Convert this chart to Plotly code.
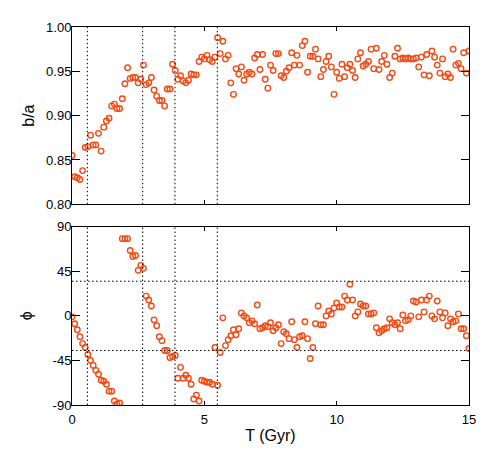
import plotly.graph_objs as go
from plotly.subplots import make_subplots

# time of each snapshot (Gyr)
T = [0.0, 0.1, 0.2, 0.3, 0.4, 0.5, 0.6, 0.7, 0.8, 0.9,
     1.0, 1.1, 1.2, 1.3, 1.4, 1.5, 1.6, 1.7, 1.8, 1.9,
     2.0, 2.1, 2.2, 2.3, 2.4, 2.5, 2.6, 2.7, 2.8, 2.9,
     3.0, 3.1, 3.2, 3.3, 3.4, 3.5, 3.6, 3.7, 3.8, 3.9,
     4.0, 4.1, 4.2, 4.3, 4.4, 4.5, 4.6, 4.7, 4.8, 4.9,
     5.0, 5.1, 5.2, 5.3, 5.4, 5.5, 5.6, 5.7, 5.8, 5.9,
     6.0, 6.1, 6.2, 6.3, 6.4, 6.5, 6.6, 6.7, 6.8, 6.9,
     7.0, 7.1, 7.2, 7.3, 7.4, 7.5, 7.6, 7.7, 7.8, 7.9,
     8.0, 8.1, 8.2, 8.3, 8.4, 8.5, 8.6, 8.7, 8.8, 8.9,
     9.0, 9.1, 9.2, 9.3, 9.4, 9.5, 9.6, 9.7, 9.8, 9.9,
     10.0, 10.1, 10.2, 10.3, 10.4, 10.5, 10.6, 10.7, 10.8, 10.9,
     11.0, 11.1, 11.2, 11.3, 11.4, 11.5, 11.6, 11.7, 11.8, 11.9,
     12.0, 12.1, 12.2, 12.3, 12.4, 12.5, 12.6, 12.7, 12.8, 12.9,
     13.0, 13.1, 13.2, 13.3, 13.4, 13.5, 13.6, 13.7, 13.8, 13.9,
     14.0, 14.1, 14.2, 14.3, 14.4, 14.5, 14.6, 14.7, 14.8, 14.9,
     15.0]

# axis ratio b/a
BA = [0.855, 0.831, 0.830, 0.828, 0.838, 0.864, 0.865, 0.878, 0.867, 0.867,
      0.880, 0.860, 0.887, 0.894, 0.897, 0.911, 0.913, 0.908, 0.908, 0.919,
      0.936, 0.954, 0.942, 0.943, 0.943, 0.937, 0.941, 0.957, 0.935, 0.937,
      0.943, 0.929, 0.922, 0.917, 0.917, 0.911, 0.930, 0.930, 0.958, 0.951,
      0.941, 0.945, 0.939, 0.937, 0.940, 0.947, 0.946, 0.946, 0.961, 0.966,
      0.964, 0.968, 0.963, 0.961, 0.966, 0.988, 0.970, 0.984, 0.964, 0.968,
      0.937, 0.924, 0.953, 0.947, 0.955, 0.940, 0.947, 0.949, 0.947, 0.965,
      0.969, 0.952, 0.969, 0.941, 0.931, 0.957, 0.951, 0.970, 0.970, 0.945,
      0.943, 0.950, 0.954, 0.971, 0.957, 0.968, 0.957, 0.979, 0.984, 0.949,
      0.967, 0.967, 0.975, 0.964, 0.944, 0.952, 0.961, 0.967, 0.955, 0.924,
      0.949, 0.942, 0.958, 0.944, 0.954, 0.958, 0.951, 0.943, 0.964, 0.971,
      0.956, 0.958, 0.961, 0.975, 0.953, 0.976, 0.952, 0.961, 0.968, 0.958,
      0.943, 0.948, 0.967, 0.976, 0.964, 0.965, 0.964, 0.965, 0.964, 0.964,
      0.965, 0.955, 0.966, 0.946, 0.969, 0.945, 0.973, 0.966, 0.957, 0.948,
      0.964, 0.944, 0.947, 0.943, 0.975, 0.957, 0.959, 0.953, 0.971, 0.948,
      0.973]

# position angle phi (deg)
PHI = [-1, -8, -14, -21, -28, -32, -39, -45, -50, -55,
       -59, -65, -66, -69, -76, -76, -86, -89, -88, 78,
       78, 78, 66, 60, 61, 46, 51, 48, 20, 16,
       10, -4, -10, -21, -25, -35, -35, -42, -41, -40,
       -63, -52, -63, -60, -63, -69, -84, -80, -86, -65,
       -66, -67, -67, -69, -32, -70, -37, -2, -30, -24,
       -20, -14, -19, -13, 3, 0, -2, -7, -5, -8,
       11, -13, -12, -10, -11, -7, -15, -12, -9, -28,
       -16, -18, -23, -6, -24, -32, -21, -20, -6, -23,
       -43, -32, -8, 10, -9, -9, 0, 5, 2, 8,
       13, 9, 9, 20, 16, 32, 16, 0, 4, 12,
       10, 10, 2, 2, 3, -12, -17, -15, -13, -12,
       -3, -7, -9, -7, -13, 1, -5, -4, 0, 15,
       14, -1, 16, 4, 16, 20, 0, -3, 15, 4,
       -2, 3, -10, -3, -6, -5, 2, -13, -13, -20,
       -33]

# dotted reference lines
T_MARKS = [0.58, 2.67, 3.89, 5.49]
PHI_MARKS = [35, -35]

BA_TICKS = [0.80, 0.85, 0.90, 0.95, 1.00]
PHI_TICKS = [-90, -45, 0, 45, 90]
PHI_LABELS = ['-90', '-45', '0', '45', '90']
T_TICKS = [0, 5, 10, 15]

COLOR = '#f44a14'

fig = make_subplots(rows=2, cols=1, shared_xaxes=True)

marker = dict(symbol='circle-open', size=5.5, color=COLOR, line=dict(width=1.4, color=COLOR))
fig.add_trace(go.Scatter(x=T, y=BA, mode='markers', marker=marker, showlegend=False), row=1, col=1)
fig.add_trace(go.Scatter(x=T, y=PHI, mode='markers', marker=marker, showlegend=False), row=2, col=1)

dot = dict(color='black', width=1, dash='1.5px,2.5px')
for t in T_MARKS:
    fig.add_vline(x=t, line=dot, row='all', col=1)
for p in PHI_MARKS:
    fig.add_hline(y=p, line=dot, row=2, col=1)

axis_style = dict(showline=True, linecolor='black', linewidth=1, mirror='ticks',
                  ticks='inside', tickcolor='black', showgrid=False, zeroline=False)

fig.update_xaxes(range=[0, 15], tickvals=T_TICKS, ticklen=4, ticklabelstandoff=2, **axis_style)
fig.update_xaxes(showticklabels=False, row=1, col=1)
fig.update_xaxes(title=dict(text='T (Gyr)', standoff=4), row=2, col=1)

fig.update_yaxes(ticklen=8, ticklabelstandoff=-3, **axis_style)
fig.update_yaxes(range=[0.8, 1.0], tickvals=BA_TICKS, tickformat='.2f',
                 title=dict(text='b/a', standoff=7), domain=[0.531, 1.0], row=1, col=1)
fig.update_yaxes(range=[-90, 90], tickvals=PHI_TICKS, ticktext=PHI_LABELS,
                 title=dict(text='ϕ', standoff=15), domain=[0.0, 0.4715], row=2, col=1)

# the page adds an 8px body margin, so the figure is sized to fit inside it
fig.update_layout(
    width=483, height=446,
    margin=dict(l=64, r=22, t=14, b=46),
    font=dict(family='Liberation Sans, Arial, sans-serif', size=13, color='black'),
    plot_bgcolor='white', paper_bgcolor='white',
)

fig.write_html('out.html')
